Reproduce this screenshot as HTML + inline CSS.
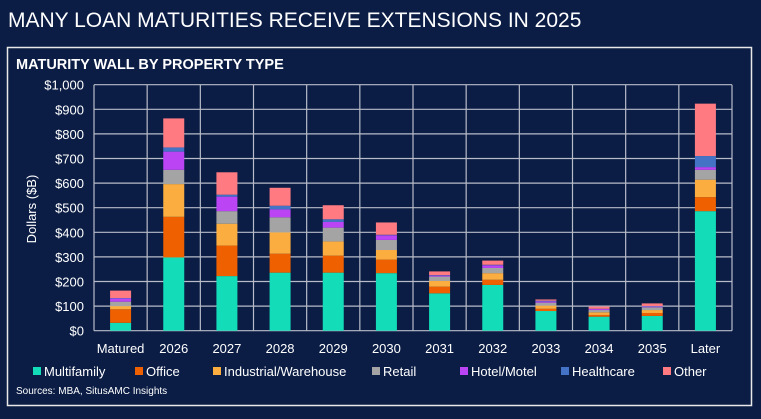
<!DOCTYPE html>
<html><head><meta charset="utf-8"><style>
body{margin:0;background:#0b1d45;width:761px;height:414px;overflow:hidden;font-family:"Liberation Sans",sans-serif;color:#fff}
</style></head><body>
<svg width="761" height="414" xmlns="http://www.w3.org/2000/svg">
<rect width="761" height="414" fill="#0b1d45"/>
<text x="8" y="27" font-size="21" fill="#fff">MANY LOAN MATURITIES RECEIVE EXTENSIONS IN 2025</text>
<rect x="7.5" y="47.5" width="744" height="358" fill="none" stroke="#e8e8e8" stroke-width="1.5"/>
<text x="16" y="69" font-size="14.5" font-weight="bold" fill="#fff">MATURITY WALL BY PROPERTY TYPE</text>
<text transform="translate(36,209) rotate(-90)" text-anchor="middle" font-size="13" fill="#fff">Dollars ($B)</text>
<g id="grid"></g><g id="bars"></g><g id="labels"></g><g id="legend"></g>
<text x="16" y="394" font-size="10" fill="#fff">Sources: MBA, SitusAMC Insights</text>
</svg>
<script>
const categories=["Matured","2026","2027","2028","2029","2030","2031","2032","2033","2034","2035","Later"];
const seriesNames=["Multifamily","Office","Industrial/Warehouse","Retail","Hotel/Motel","Healthcare","Other"];
const multifamily=[32,298,222,236,236,234,152,186,80,57,60,486];
const office=[55,165,124,77,69,55,27,21,9,7,12,57];
const industrial=[13,133,89,87,58,39,23,27,13,11,12,71];
const retail=[18,58,51,61,56,41,18,21,12,9,11,40];
const hotel=[13,74,59,32,23,19,4,11,5,4,3,11];
const healthcare=[2,17,8,15,11,2,2,2,3,1,2,45];
const other=[30,118,91,73,57,50,15,17,5,9,11,213];
const yTicks=[0,100,200,300,400,500,600,700,800,900,1000];
const series=[multifamily,office,industrial,retail,hotel,healthcare,other];
const colors=["#13dcb8","#ee6000","#fbad3f","#a4a4a4","#bb44f5","#4472c4","#ff7b81"];
const X0=94,X1=732,Y0=330.7,Y1=84.7,NS="http://www.w3.org/2000/svg";
const bw=(X1-X0)/categories.length;
const y=v=>Y0-(v/1000)*(Y0-Y1);
const xc=i=>X0+bw*(i+0.5);
function mk(t,a,p){const e=document.createElementNS(NS,t);for(const k in a)e.setAttribute(k,a[k]);p.appendChild(e);return e;}
const grid=document.getElementById('grid');
yTicks.forEach(t=>{
 const l=mk('line',{x1:X0,x2:X1,y1:y(t),y2:y(t),stroke:'#b8bcc8','stroke-width':1.2},grid);
 
 
 const tx=mk('text',{x:X0-10,y:y(t)+5,'text-anchor':'end','font-size':13,fill:'#fff'},grid);
 tx.textContent='$'+t.toLocaleString('en-US');
 
 
});
for(let i=0;i<=categories.length;i++){
 const l=mk('line',{x1:X0+bw*i,x2:X0+bw*i,y1:Y1,y2:Y0,stroke:'#b8bcc8','stroke-width':1.2},grid);
 
 
}
const bars=document.getElementById('bars'),labels=document.getElementById('labels');
categories.forEach((c,i)=>{
 let cum=0;
 series.forEach((s,k)=>{
  const v=s[i];
  const r=mk('rect',{x:xc(i)-10.5,y:y(cum+v),width:21,height:y(cum)-y(cum+v),fill:colors[k]},bars);
  
  
  cum+=v;
 });
 const t=mk('text',{x:xc(i),y:353,'text-anchor':'middle','font-size':13,fill:'#fff'},labels);
 t.textContent=c;
 
 
});
const legend=document.getElementById('legend');
const lx=[33,135,213,372,460,561,663];
seriesNames.forEach((n,k)=>{
 const g=mk('g',{},legend);
 
 
 mk('rect',{x:lx[k],y:367,width:8,height:8,fill:colors[k]},g);
 const t=mk('text',{x:lx[k]+11,y:376,'font-size':13,fill:'#fff'},g);
 t.textContent=n;
});
</script>
</body></html>
